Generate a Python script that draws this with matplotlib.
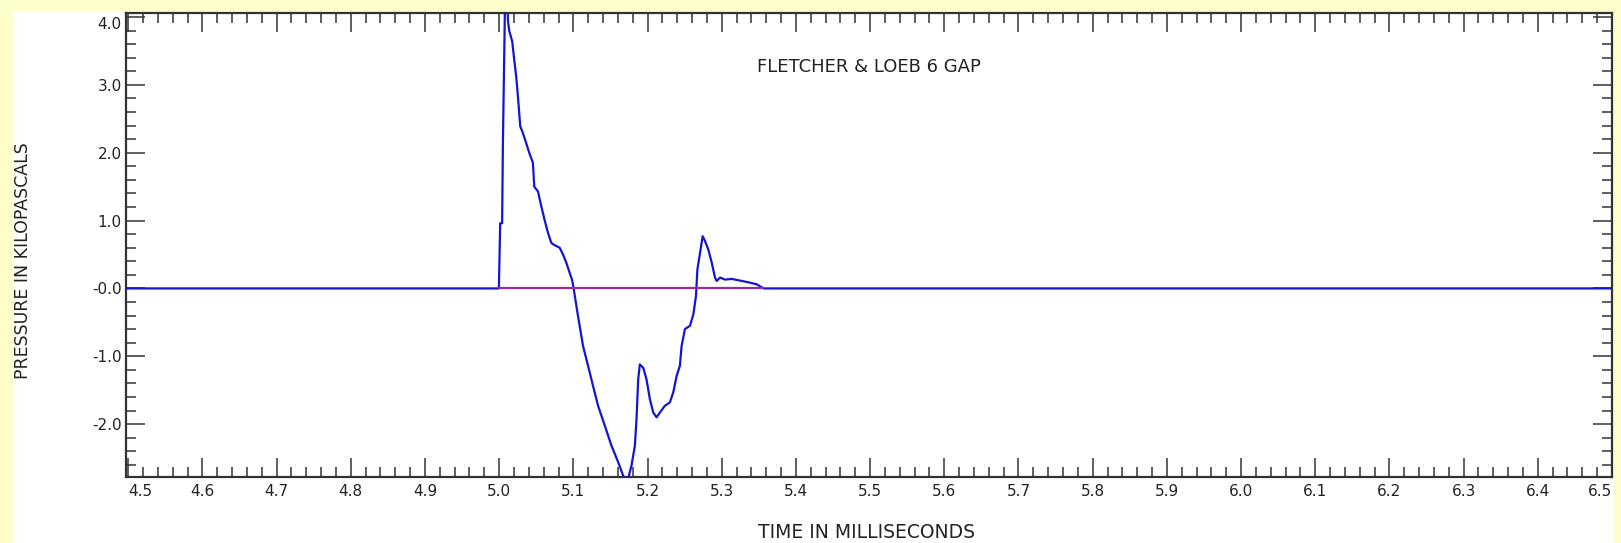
import matplotlib
matplotlib.use("Agg")
import matplotlib.pyplot as plt
from matplotlib.patches import Rectangle
from matplotlib.ticker import MultipleLocator, FixedLocator
import numpy as np

# ---- data ----
time_ms = [4.497, 4.9996, 5.0014, 5.0040, 5.0050, 5.0080, 5.0110, 5.0118, 5.0135,
           5.0176, 5.0203, 5.0230, 5.0253, 5.0284, 5.0320, 5.0365, 5.0405, 5.0455,
           5.0473, 5.0523, 5.0568, 5.0612, 5.0658, 5.0703, 5.0743, 5.0815, 5.0861,
           5.0905, 5.0950, 5.0982, 5.1004, 5.1063, 5.1131, 5.1198, 5.1266, 5.1333,
           5.1423, 5.1514, 5.1604, 5.1671, 5.1716, 5.1784, 5.1829, 5.1851, 5.1874,
           5.1896, 5.1942, 5.1986, 5.2031, 5.2077, 5.2122, 5.2166, 5.2234, 5.2301,
           5.2347, 5.2392, 5.2436, 5.2459, 5.2504, 5.2572, 5.2618, 5.2653, 5.2672,
           5.2707, 5.2743, 5.2774, 5.2820, 5.2865, 5.2909, 5.2932, 5.2977, 5.3045,
           5.3135, 5.3226, 5.3361, 5.3473, 5.3564, 6.5]
pressure_kpa = [0.0, 0.0, 0.96, 0.96, 2.11, 4.3, 4.4, 3.95, 3.80,
                3.64, 3.37, 3.12, 2.83, 2.39, 2.29, 2.14, 2.00, 1.85,
                1.50, 1.43, 1.21, 1.01, 0.82, 0.67, 0.64, 0.60, 0.50,
                0.38, 0.23, 0.13, 0.0, -0.41, -0.85, -1.14, -1.44, -1.73,
                -2.02, -2.32, -2.56, -2.76, -2.90, -2.61, -2.32, -1.93, -1.34,
                -1.12, -1.17, -1.34, -1.63, -1.83, -1.90, -1.83, -1.73, -1.68,
                -1.53, -1.29, -1.14, -0.85, -0.60, -0.55, -0.38, -0.11, 0.28,
                0.52, 0.77, 0.70, 0.57, 0.38, 0.16, 0.11, 0.16, 0.13,
                0.14, 0.12, 0.09, 0.06, 0.0, 0.0]
zero_segment_t = [5.0, 5.356]
zero_segment_p = [0.0, 0.0]

x_ticks = [4.5, 4.6, 4.7, 4.8, 4.9, 5.0, 5.1, 5.2, 5.3, 5.4, 5.5, 5.6, 5.7, 5.8,
           5.9, 6.0, 6.1, 6.2, 6.3, 6.4, 6.5]
x_ticklabels = ["4.5", "4.6", "4.7", "4.8", "4.9", "5.0", "5.1", "5.2", "5.3", "5.4",
                "5.5", "5.6", "5.7", "5.8", "5.9", "6.0", "6.1", "6.2", "6.3", "6.4", "6.5"]
y_ticks = [-2.0, -1.0, 0.0, 1.0, 2.0, 3.0, 4.0]
y_ticklabels = ["-2.0", "-1.0", "-0.0", "1.0", "2.0", "3.0", "4.0"]

title_text = "FLETCHER & LOEB 6 GAP"
xlabel_text = "TIME IN MILLISECONDS"
ylabel_text = "PRESSURE IN KILOPASCALS"

# ---- figure ----
W, H = 1621, 543
fig = plt.figure(figsize=(W / 100, H / 100), dpi=100, facecolor="#FFFFCC")
fig.patches.append(Rectangle((13 / W, 0), 1600 / W, 1 - 12 / H, transform=fig.transFigure,
                             facecolor="white", edgecolor="none", zorder=-10))

ax = fig.add_axes([126 / W, 1 - 477 / H, (1612 - 126) / W, (477 - 13) / H])
ax.set_facecolor("white")

ax.plot(time_ms, pressure_kpa, color="#1414D2", lw=1.6, zorder=3)
ax.plot(zero_segment_t, zero_segment_p, color="#9B2C9B", lw=1.6, zorder=4)

ax.set_xlim(4.497, 6.5)
ax.set_ylim(-2.78, 4.06)

ax.xaxis.set_major_locator(FixedLocator(x_ticks))
ax.xaxis.set_minor_locator(MultipleLocator(0.02))
ax.yaxis.set_major_locator(FixedLocator(y_ticks))
ax.yaxis.set_minor_locator(MultipleLocator(0.2))
ax.set_xticklabels(x_ticklabels)
ax.set_yticklabels(y_ticklabels)

lab = ax.get_xticklabels()
lab[0].set_ha("left")
lab[-1].set_ha("right")
ylab = ax.get_yticklabels()
ylab[-1].set_va("top")

ax.tick_params(which="both", direction="in", top=True, right=True, colors="#333333",
               labelcolor="#222222", width=1.1)
ax.tick_params(which="major", length=13.5, labelsize=11)
ax.tick_params(which="minor", length=7)
ax.tick_params(axis="x", which="major", pad=5)
ax.tick_params(axis="y", which="major", pad=3)
for s in ax.spines.values():
    s.set_color("#333333")
    s.set_linewidth(1.6)

ax.text(0.5, 0.883, title_text, transform=ax.transAxes, ha="center", va="center",
        fontsize=13, color="#222222")
fig.text(866 / W, 1 - 533 / H, xlabel_text, ha="center", va="center", fontsize=13.5,
         color="#222222")
fig.text(23 / W, 1 - 261 / H, ylabel_text, ha="center", va="center", rotation=90,
         fontsize=12.5, color="#222222")

fig.savefig("out.png", dpi=100, facecolor=fig.get_facecolor())
